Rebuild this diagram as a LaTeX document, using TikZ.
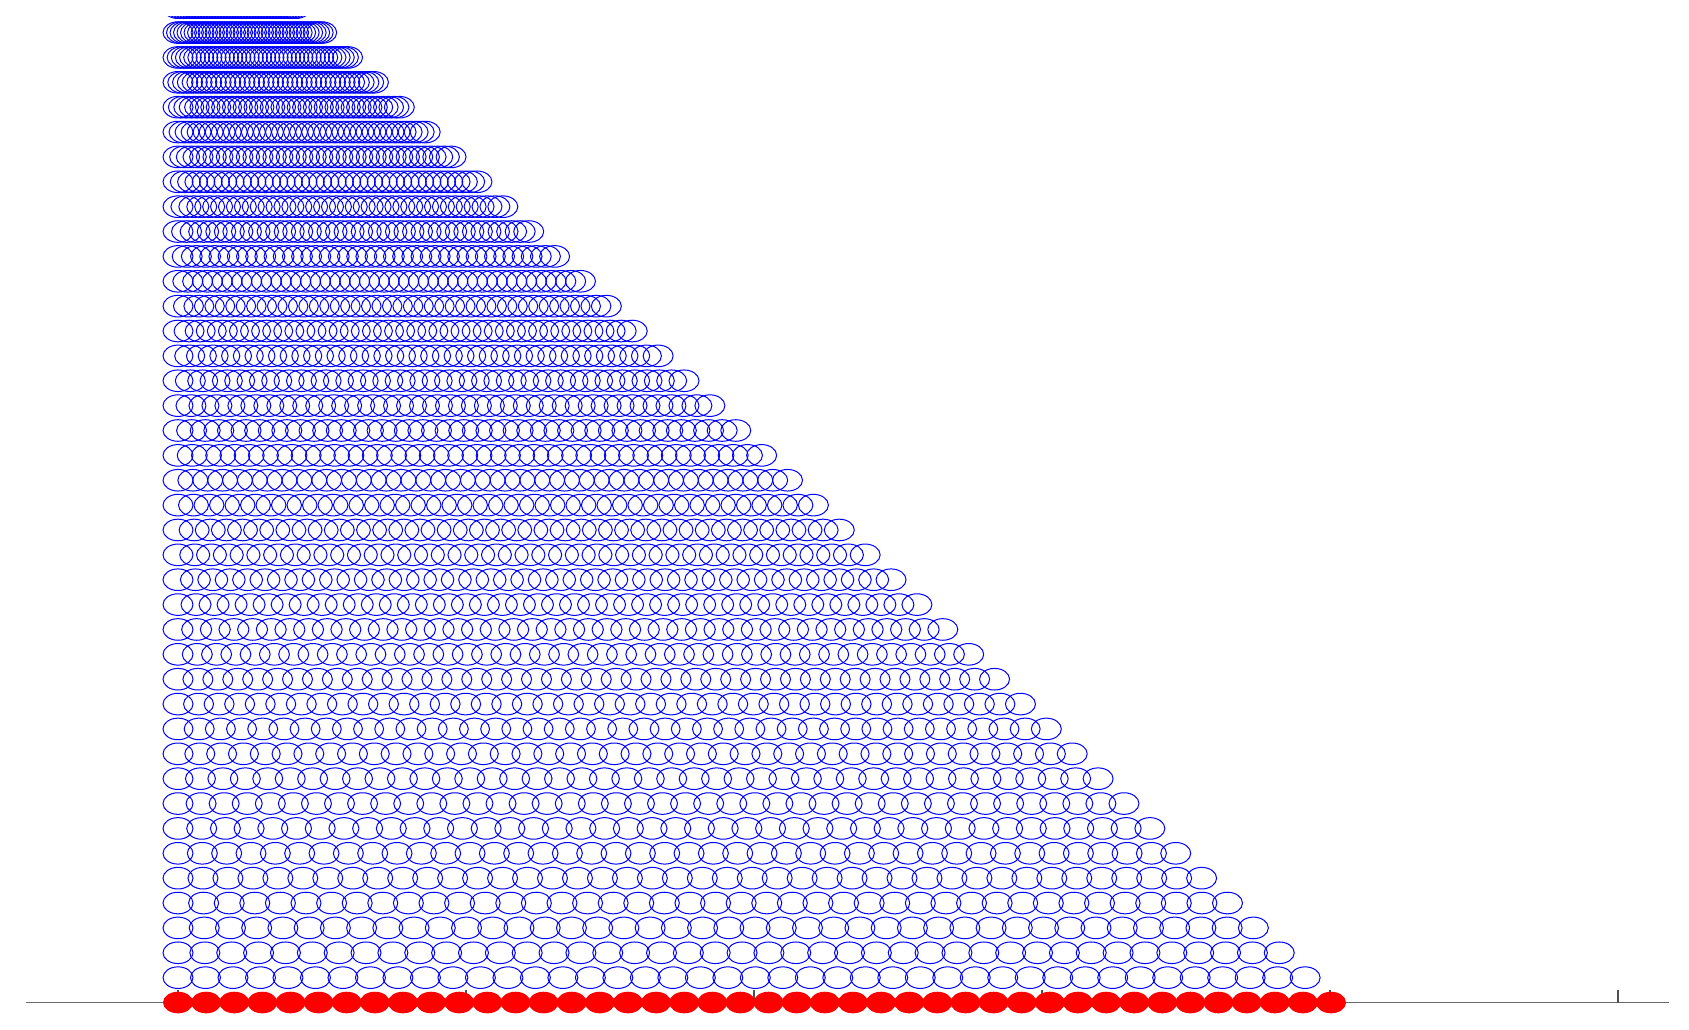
\documentclass[tikz,border=0pt]{standalone}
\definecolor{axisgray}{RGB}{105,105,105}
\definecolor{tickgray}{RGB}{80,80,80}
\definecolor{mkblue}{RGB}{0,0,255}
\definecolor{mkred}{RGB}{255,0,0}
\begin{document}
\begin{tikzpicture}[x=0.5pt,y=-0.5pt,
  blueell/.style={draw=mkblue,line width=0.5pt},
  redell/.style={fill=mkred},
  axisline/.style={draw=axisgray,line width=0.75pt},
  tickline/.style={draw=tickgray,line width=0.9pt}]
\useasboundingbox (0,0) rectangle (1689,1029);
\coordinate (axL) at (26,1002.5);
\coordinate (axR) at (1669,1002.5);
\draw[axisline] (axL) -- (axR);
\foreach \t in {178,466,754,1042,1330,1618}{
  \coordinate (tb\t) at (\t,1002.5);
  \coordinate (tt\t) at (\t,990);
  \draw[tickline] (tb\t) -- (tt\t);
}
\begin{scope}
\clip (0,16.5) rectangle (1689,1029);
\foreach \j in {1,...,40}{
  \pgfmathsetmacro{\yy}{1002.5-24.87*\j}
  \pgfmathsetmacro{\ss}{(1153-25.88*\j)/41}
  \foreach \i in {0,...,41}{
    \draw[blueell] ({178+\i*\ss},\yy) ellipse [x radius=7.5pt, y radius=5.4pt];
  }
}
\end{scope}
\foreach \i in {0,...,41}{
  \fill[redell] ({178+\i*28.122},1002.5) ellipse [x radius=7.5pt, y radius=5.4pt];
}
\end{tikzpicture}
\end{document}
